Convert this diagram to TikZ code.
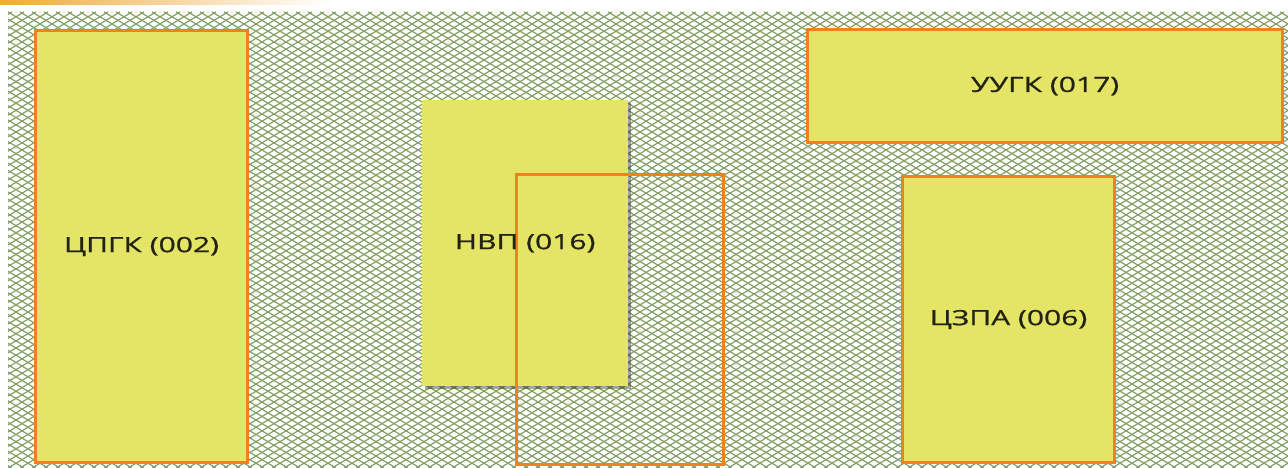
\documentclass[tikz,border=0pt]{standalone}
\usepackage{fontspec}
\setmainfont{Open Sans}
\newfontface\labelface{Open Sans}[FakeBold=0.8]
\usetikzlibrary{shadows}
\definecolor{hatchgreen}{RGB}{130,160,100}
\definecolor{boxfill}{RGB}{228,228,102}
\definecolor{boxline}{RGB}{240,128,32}
\definecolor{topbar}{RGB}{238,170,60}
\definecolor{labeltext}{RGB}{35,35,20}
\newcommand{\widelabel}[1]{\scalebox{1.43}[1]{#1}}
\tikzset{
  labelfont/.style={font=\labelface\fontsize{21}{24}\selectfont, text=labeltext},
  unit/.style={draw=boxline, line width=3pt, fill=boxfill, inner sep=0pt, labelfont},
  shadowbox/.style={fill=boxfill, inner sep=0pt, drop shadow={shadow xshift=3pt, shadow yshift=-3pt, opacity=0.35, fill=black}},
  outline/.style={draw=boxline, line width=3pt, inner sep=0pt},
  hatch/.style={hatchgreen, line width=1.2pt}
}
\begin{document}
\begin{tikzpicture}[x=1pt,y=-1pt]
\useasboundingbox (0,0) rectangle (1288,468);
\fill[white] (0,0) rectangle (1288,468);
% top bar
\shade[left color=topbar, right color=white] (0,0) rectangle (330,5);
% hatched background
\begin{scope}
\clip (8,12) rectangle (1288,468);
\fill[white] (8,12) rectangle (1288,468);
\foreach \k in {-760,-748,...,1300} {
  \draw[hatch] (\k,12) -- ++(760,456);
  \draw[hatch] (\k+760,12) -- ++(-760,456);
}
\end{scope}
% boxes
\node[unit, minimum width=212pt, minimum height=432pt, anchor=north west] (cpgk) at (34,29) {\widelabel{ЦПГК (002)}};
\node[shadowbox, minimum width=206pt, minimum height=286pt, anchor=north west] (nvp) at (422,100) {};
\node[outline, minimum width=207pt, minimum height=290pt, anchor=north west] (frame) at (515,173) {};
\node[labelfont] (nvplabel) at (nvp.center) {\widelabel{НВП (016)}};
\node[unit, minimum width=475pt, minimum height=113pt, anchor=north west] (uugk) at (806,28) {\widelabel{УУГК (017)}};
\node[unit, minimum width=212pt, minimum height=286pt, anchor=north west] (czpa) at (901,175) {\widelabel{ЦЗПА (006)}};
\end{tikzpicture}
\end{document}
